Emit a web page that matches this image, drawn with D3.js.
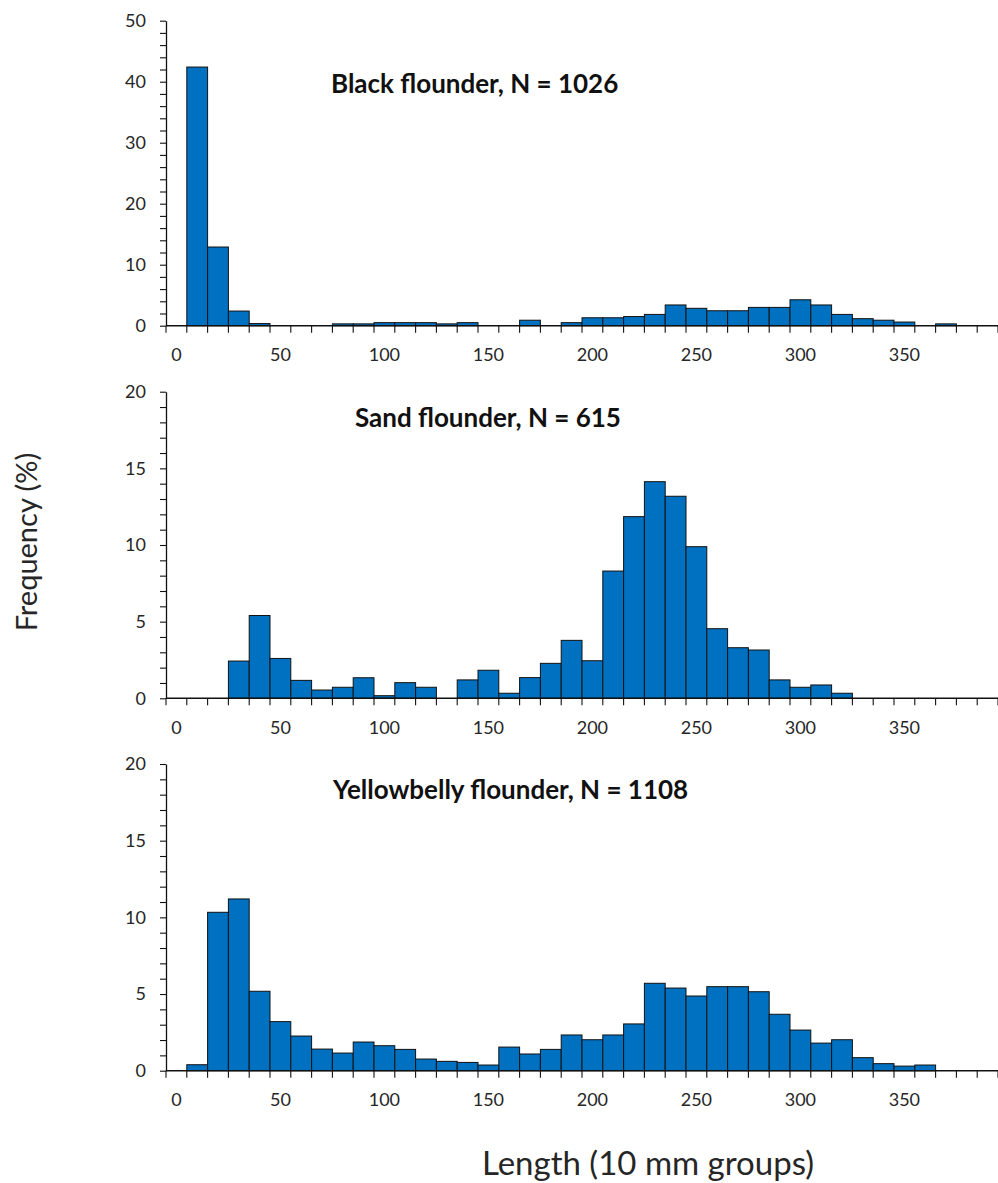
<!DOCTYPE html>
<html>
<head>
<meta charset="utf-8">
<script src="https://cdn.jsdelivr.net/npm/d3@7"></script>
<style>
  html, body { margin: 0; padding: 0; background: #fff; }
  svg { display: block; }
  svg text { font-family: Lato, "Open Sans", sans-serif; }
</style>
</head>
<body>
<svg id="chart" width="998" height="1183"></svg>
<script>
// Length classes (10 mm groups), one per bar slot
const lengthClasses = d3.range(0, 400, 10);
const xTickLabels = [0, 50, 100, 150, 200, 250, 300, 350];

// Frequency (%) per length class
const blackFlounder = [
  0, 42.4, 12.9, 2.4, 0.35, 0, 0, 0, 0.3, 0.3,
  0.5, 0.5, 0.5, 0.3, 0.5, 0, 0, 0.9, 0, 0.5,
  1.3, 1.3, 1.5, 1.85, 3.4, 2.85, 2.45, 2.45, 3.0, 3.0,
  4.25, 3.4, 1.85, 1.15, 0.9, 0.6, 0, 0.3, 0, 0
];
const sandFlounder = [
  0, 0, 0, 2.43, 5.4, 2.6, 1.17, 0.54, 0.72, 1.34,
  0.17, 1.02, 0.72, 0, 1.2, 1.83, 0.33, 1.35, 2.28, 3.78,
  2.45, 8.3, 11.85, 14.13, 13.18, 9.89, 4.54, 3.3, 3.15, 1.2,
  0.72, 0.87, 0.33, 0, 0, 0, 0, 0, 0, 0
];
const yellowbellyFlounder = [
  0, 0.39, 10.33, 11.2, 5.18, 3.2, 2.26, 1.41, 1.15, 1.87,
  1.63, 1.39, 0.76, 0.61, 0.54, 0.37, 1.54, 1.09, 1.39, 2.33,
  2.02, 2.33, 3.05, 5.7, 5.39, 4.87, 5.48, 5.48, 5.15, 3.68,
  2.65, 1.8, 2.02, 0.85, 0.46, 0.3, 0.37, 0, 0, 0
];

const panelTitles = [
  "Black flounder, N = 1026",
  "Sand flounder, N = 615",
  "Yellowbelly flounder, N = 1108"
];
const yMax = [50, 20, 20];
const yMinorStep = [2, 1, 1];
const yMajorStep = [10, 5, 5];

const BAR_FILL = "#0070c0";
const TEXT = "#262626";
const FONT = 'Lato, "Open Sans", sans-serif';

const svg = d3.select("#chart");
const left = 166, right = 998;

// Panel frames: top (y of max) and bottom (y of zero)
const frames = [
  { top: 20.7, bottom: 325.7, titleX: 331, titleY: 93 },
  { top: 391.7, bottom: 698.3, titleX: 355, titleY: 427 },
  { top: 764, bottom: 1070.7, titleX: 333, titleY: 799 }
];
const series = [blackFlounder, sandFlounder, yellowbellyFlounder];

const x = d3.scaleBand().domain(lengthClasses).range([left, right]).paddingInner(0).paddingOuter(0);

series.forEach((values, p) => {
  const f = frames[p];
  const y = d3.scaleLinear().domain([0, yMax[p]]).range([f.bottom, f.top]);
  const g = svg.append("g");

  // bars
  g.append("g").selectAll("rect")
    .data(values.map((v, i) => ({ c: lengthClasses[i], v })))
    .join("rect")
    .attr("x", d => x(d.c))
    .attr("y", d => y(d.v))
    .attr("width", x.bandwidth())
    .attr("height", d => y(0) - y(d.v))
    .attr("fill", BAR_FILL)
    .attr("stroke", "#111")
    .attr("stroke-width", 1);

  // y axis: minor ticks everywhere, labels on the major steps
  const yTicks = d3.range(0, yMax[p] + 1e-9, yMinorStep[p]);
  const yAxis = d3.axisLeft(y)
    .tickValues(yTicks)
    .tickSize(6)
    .tickSizeOuter(0)
    .tickPadding(14)
    .tickFormat(d => (Math.abs(d % yMajorStep[p]) < 1e-9 ? d : ""));
  const yg = g.append("g").attr("transform", `translate(${left},0)`).call(yAxis)
    .attr("font-family", FONT).attr("font-size", 18);
  yg.select(".domain").attr("stroke", "#111").attr("stroke-width", 1.3);
  yg.selectAll(".tick line").attr("stroke", "#111").attr("stroke-width", 1.1);
  yg.selectAll(".tick text").attr("fill", TEXT);

  // x axis: tick marks between classes, labels centred under every fifth class
  const xg = g.append("g").attr("transform", `translate(0,${f.bottom})`);
  xg.append("line")
    .attr("x1", left).attr("x2", right)
    .attr("y1", 0).attr("y2", 0)
    .attr("stroke", "#111").attr("stroke-width", 1.6);
  const edges = lengthClasses.map(c => x(c)).concat([x.range()[1]]);
  xg.selectAll("line.edge").data(edges).join("line")
    .attr("class", "edge")
    .attr("x1", d => d).attr("x2", d => d)
    .attr("y1", 0).attr("y2", 7)
    .attr("stroke", "#111").attr("stroke-width", 1.1);
  const xAxis = d3.axisBottom(x).tickValues(xTickLabels).tickSize(0).tickPadding(23);
  const xl = g.append("g").attr("transform", `translate(0,${f.bottom})`).call(xAxis)
    .attr("font-family", FONT).attr("font-size", 18);
  xl.select(".domain").remove();
  xl.selectAll(".tick text").attr("fill", TEXT);

  // panel title
  g.append("text")
    .attr("x", f.titleX).attr("y", f.titleY)
    .attr("fill", "#111")
    .style("font-size", "26px").style("font-weight", "bold")
    .text(panelTitles[p]);
});

// axis titles
svg.append("text")
  .attr("transform", "translate(37,542) rotate(-90)")
  .attr("text-anchor", "middle")
  .attr("fill", TEXT)
  .style("font-size", "29px")
  .text("Frequency (%)");

svg.append("text")
  .attr("x", 648).attr("y", 1175)
  .attr("text-anchor", "middle")
  .attr("fill", TEXT)
  .style("font-size", "33px")
  .text("Length (10 mm groups)");
</script>
</body>
</html>
